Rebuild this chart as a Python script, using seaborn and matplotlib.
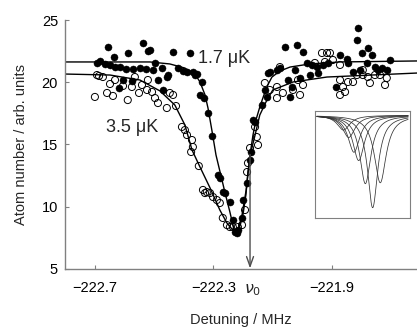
import numpy as np
import pandas as pd
import matplotlib
matplotlib.use("Agg")
import matplotlib.pyplot as plt
import seaborn as sns
from matplotlib.transforms import blended_transform_factory

# ---------------- data ----------------
filled_x = [-222.693, -222.683, -222.666, -222.656, -222.649, -222.636, -222.632, -222.619,
            -222.616, -222.605, -222.595, -222.589, -222.575, -222.572, -222.548, -222.538,
            -222.528, -222.521, -222.514, -222.504, -222.497, -222.487, -222.474, -222.470,
            -222.457, -222.453, -222.436, -222.420, -222.403, -222.389, -222.379, -222.369,
            -222.362, -222.355, -222.345, -222.339, -222.332, -222.318, -222.305, -222.284,
            -222.278, -222.268, -222.261, -222.244, -222.234, -222.227, -222.220, -222.217,
            -222.203, -222.200, -222.186, -222.176, -222.173, -222.166, -222.159, -222.136,
            -222.126, -222.119, -222.116, -222.109, -222.085, -222.075, -222.058, -222.048,
            -222.041, -222.034, -222.024, -222.018, -222.007, -221.997, -221.984, -221.974,
            -221.967, -221.950, -221.948, -221.930, -221.913, -221.886, -221.872, -221.849,
            -221.845, -221.828, -221.815, -221.811, -221.805, -221.798, -221.781, -221.778,
            -221.764, -221.754, -221.744, -221.730, -221.714, -221.703]
filled_y = [21.55, 21.71, 21.47, 22.83, 21.39, 22.03, 21.22, 19.54,
            21.22, 20.18, 21.06, 22.35, 20.10, 21.06, 21.14, 23.15,
            21.06, 22.51, 22.59, 20.98, 21.55, 20.18, 21.14, 19.38,
            20.42, 20.58, 22.43, 21.14, 20.90, 20.82, 22.35, 20.82,
            20.58, 20.66, 18.98, 20.02, 18.73, 17.53, 15.68, 12.55,
            12.31, 11.18, 11.10, 10.38, 8.94, 7.97, 7.89, 8.13,
            9.10, 10.54, 11.91, 13.76, 14.40, 16.97, 16.81, 18.17,
            19.38, 18.82, 20.74, 20.82, 20.98, 21.14, 22.83, 20.18,
            18.82, 19.62, 20.98, 22.99, 20.34, 22.43, 21.55, 20.58,
            21.39, 21.22, 20.74, 21.39, 21.55, 19.62, 22.19, 21.87,
            21.55, 20.82, 23.39, 24.36, 20.98, 22.35, 21.55, 22.75,
            22.19, 21.22, 20.98, 21.14, 20.98, 21.79]

open_x = [-222.700, -222.693, -222.686, -222.673, -222.659, -222.649, -222.639, -222.632,
          -222.605, -222.589, -222.575, -222.565, -222.551, -222.541, -222.524, -222.521,
          -222.507, -222.497, -222.487, -222.457, -222.447, -222.436, -222.426, -222.406,
          -222.396, -222.389, -222.372, -222.369, -222.375, -222.349, -222.335, -222.328,
          -222.322, -222.311, -222.301, -222.288, -222.278, -222.268, -222.254, -222.244,
          -222.234, -222.217, -222.203, -222.193, -222.186, -222.183, -222.176, -222.159,
          -222.153, -222.149, -222.126, -222.109, -222.085, -222.085, -222.075, -222.065,
          -222.031, -222.014, -222.007, -221.997, -221.957, -221.933, -221.923, -221.916,
          -221.906, -221.896, -221.872, -221.872, -221.872, -221.862, -221.855, -221.845,
          -221.828, -221.815, -221.795, -221.795, -221.778, -221.771, -221.754, -221.737,
          -221.720, -221.714]
open_y = [18.82, 20.58, 20.50, 20.42, 19.14, 19.86, 18.90, 20.18,
          19.70, 18.57, 19.62, 20.42, 19.14, 19.78, 19.38, 20.18,
          19.22, 18.73, 18.33, 17.93, 19.14, 18.98, 18.09, 16.41,
          16.16, 15.76, 15.36, 14.80, 14.40, 13.27, 11.35, 11.10,
          11.18, 11.10, 10.78, 10.54, 10.30, 9.10, 8.53, 8.37,
          8.37, 8.37, 8.53, 9.74, 12.79, 13.51, 14.72, 16.41,
          15.60, 14.96, 19.94, 19.38, 19.62, 18.73, 21.22, 19.14,
          19.38, 20.18, 18.98, 19.78, 21.55, 22.35, 21.63, 22.35,
          22.35, 21.79, 21.39, 20.18, 18.98, 19.62, 19.22, 20.02,
          20.02, 20.58, 20.98, 20.58, 20.42, 19.94, 20.58, 20.58,
          19.78, 20.34]

# fitted curves
fit17_x = [-222.801, -222.514, -222.447, -222.396, -222.362, -222.345, -222.328, -222.318,
           -222.305, -222.291, -222.278, -222.261, -222.244, -222.230, -222.224, -222.217,
           -222.203, -222.189, -222.176, -222.166, -222.156, -222.142, -222.129, -222.116,
           -222.102, -222.075, -222.041, -221.974, -221.872, -221.612]
fit17_y = [21.63, 21.63, 21.47, 21.14, 20.66, 20.02, 18.98, 17.93,
           16.16, 14.16, 12.87, 11.18, 9.58, 8.13, 7.89, 8.05,
           9.34, 11.35, 14.16, 15.76, 16.97, 18.09, 18.98, 19.78,
           20.42, 20.90, 21.22, 21.47, 21.63, 21.71]

fit35_x = [-222.801, -222.649, -222.548, -222.480, -222.430, -222.396, -222.372, -222.345,
           -222.311, -222.278, -222.254, -222.237, -222.224, -222.210, -222.200, -222.190,
           -222.183, -222.173, -222.159, -222.143, -222.119, -222.099, -222.031, -221.916,
           -221.612]
fit35_y = [20.66, 20.58, 20.18, 19.30, 18.17, 16.57, 14.56, 13.19,
           11.51, 9.74, 8.69, 8.21, 8.13, 8.45, 9.34, 10.94,
           12.79, 14.40, 15.76, 17.37, 18.57, 19.38, 20.02, 20.42,
           20.74]

x_ticks = [-222.7, -222.3, -221.9]
y_ticks = [5, 10, 15, 20, 25]
nu0 = -222.176

# inset: line centre, depth and width of each theoretical profile
inset_centers = [0.30, 0.355, 0.41, 0.46, 0.53, 0.607, 0.687]
inset_depths = [0.16, 0.24, 0.40, 0.49, 0.74, 1.00, 0.73]
inset_widths = [0.16, 0.16, 0.15, 0.15, 0.14, 0.13, 0.15]

# ---------------- figure ----------------
sns.set_style("ticks")
plt.rcParams["font.family"] = ["Liberation Sans", "DejaVu Sans"]
plt.rcParams["mathtext.fontset"] = "dejavusans"

fig = plt.figure(figsize=(4.17, 3.29), dpi=100)
ax = fig.add_axes([65 / 417, 60 / 329, 352 / 417, 249 / 329])

sns.lineplot(x=fit17_x, y=fit17_y, ax=ax, color="black", lw=1.0, sort=False, estimator=None)
sns.lineplot(x=fit35_x, y=fit35_y, ax=ax, color="black", lw=1.0, sort=False, estimator=None)
sns.scatterplot(x=filled_x, y=filled_y, ax=ax, color="black", edgecolor="black",
                s=26, linewidth=0.3, zorder=3)
sns.scatterplot(x=open_x, y=open_y, ax=ax, facecolor="none", edgecolor="black",
                s=26, linewidth=0.7, zorder=3)

ax.set_xlim(-222.801, -221.612)
ax.set_ylim(5, 25)
ax.set_xticks(x_ticks)
ax.set_xticklabels([f"\u2212{abs(v):.1f}" for v in x_ticks])
ax.set_yticks(y_ticks)
ax.tick_params(direction="in", length=3, width=0.8, color="0.5", labelsize=10.5,
               labelcolor="black")
ax.tick_params(axis="x", pad=9)
ax.tick_params(axis="y", pad=5)
for s in ["top", "right"]:
    ax.spines[s].set_visible(False)
for s in ["left", "bottom"]:
    ax.spines[s].set_color("0.5")
    ax.spines[s].set_linewidth(1.0)

ax.set_xlabel("Detuning / MHz", fontsize=10.5, labelpad=12.5)
ax.set_ylabel("Atom number / arb. units", fontsize=10.5, labelpad=10)

ax.text(-222.352, 21.87, "1.7 \u03bcK", fontsize=13, va="center", ha="left")
ax.text(-222.663, 16.4, "3.5 \u03bcK", fontsize=13, va="center", ha="left")

ax.annotate("", xy=(nu0, 5.05), xytext=(nu0, 14.2),
            arrowprops=dict(arrowstyle="->,head_length=0.7,head_width=0.25",
                            color="0.3", lw=1.0, shrinkA=0, shrinkB=0))
trans = blended_transform_factory(ax.transData, ax.transAxes)
ax.text(nu0 + 0.008, -0.083, r"$\nu_0$", transform=trans, fontsize=11.5,
        ha="center", va="center")

# ---------------- inset ----------------
axin = fig.add_axes([315 / 417, (329 - 218) / 329, 95 / 417, 107 / 329])
xs = np.linspace(0.02, 0.98, 300)
rows = []
for k, (c, d, w) in enumerate(zip(inset_centers, inset_depths, inset_widths)):
    prof = -d / (1 + ((xs - c) / (w / 2)) ** 2)
    rows.append(pd.DataFrame({"x": xs, "y": prof, "curve": k}))
inset_df = pd.concat(rows)
sns.lineplot(data=inset_df, x="x", y="y", units="curve", estimator=None,
             color="0.2", lw=0.55, ax=axin)
axin.set_xlim(0, 1)
axin.set_ylim(-1.111, 0.0465)
axin.set_xticks([])
axin.set_yticks([])
axin.set_xlabel("")
axin.set_ylabel("")
for s in axin.spines.values():
    s.set_color("0.5")
    s.set_linewidth(0.8)

fig.savefig("out.png", dpi=100)
